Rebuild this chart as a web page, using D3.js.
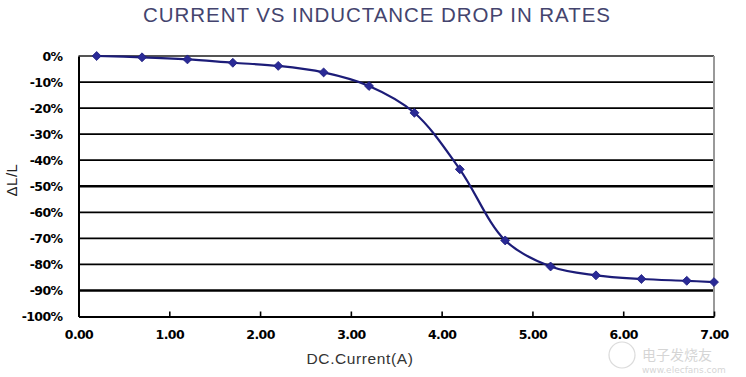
<!DOCTYPE html>
<html>
<head>
<meta charset="utf-8">
<script src="https://cdn.jsdelivr.net/npm/d3@7/dist/d3.min.js"></script>
<style>
  html, body { margin: 0; padding: 0; background: #ffffff; }
  svg { display: block; }
</style>
</head>
<body>
<svg id="chart" width="746" height="377"></svg>
<script>
// ---- data ----
const currents = [0.2, 0.7, 1.2, 1.7, 2.2, 2.7, 3.2, 3.7, 4.2, 4.7, 5.2, 5.7, 6.2, 6.7, 7.0];
const drops    = [0, -0.5, -1.3, -2.6, -3.8, -6.3, -11.5, -21.8, -43.5, -70.8, -80.8, -84.2, -85.6, -86.3, -86.8];
const yTicks   = [0, -10, -20, -30, -40, -50, -60, -70, -80, -90, -100];
const xTicks   = [0, 1, 2, 3, 4, 5, 6, 7];
const titleText = "CURRENT VS INDUCTANCE DROP IN RATES";
const xTitle = "DC.Current(A)";
const yTitle = "\u0394L/L";

(function () {
const svg = d3.select("#chart");
const pLeft = 78.5, pRight = 714, pTop = 56, pBottom = 316.5;

const x = d3.scaleLinear().domain([0, 7]).range([pLeft, pRight]);
const y = d3.scaleLinear().domain([0, -100]).range([pTop, pBottom]);

// title
svg.append("text")
  .attr("x", 143).attr("y", 22)
  .attr("textLength", 467).attr("lengthAdjust", "spacing")
  .attr("font-family", "Liberation Sans, Arial, sans-serif")
  .attr("font-size", 20.5)
  .attr("fill", "#44446e")
  .text(titleText);

// gridlines
svg.append("g").selectAll("line")
  .data(yTicks.filter(d => d !== 0 && d !== -100))
  .join("line")
  .attr("x1", pLeft).attr("x2", pRight)
  .attr("y1", d => y(d)).attr("y2", d => y(d))
  .attr("stroke", "#000").attr("stroke-width", d => (d === -50 || d === -90) ? 2.4 : 1.7);

// plot border top/right (gray)
svg.append("line").attr("x1", pLeft).attr("x2", pRight).attr("y1", pTop).attr("y2", pTop)
  .attr("stroke", "#555").attr("stroke-width", 1.8);
svg.append("line").attr("x1", pRight).attr("x2", pRight).attr("y1", pTop).attr("y2", pBottom)
  .attr("stroke", "#999").attr("stroke-width", 2);

// y axis
const yAxis = d3.axisLeft(y).tickValues(yTicks).tickSize(0).tickPadding(16)
  .tickFormat(d => d + "%");
const gy = svg.append("g").attr("transform", `translate(${pLeft},0)`).call(yAxis);
gy.select(".domain").attr("stroke", "#000").attr("stroke-width", 2);
gy.selectAll("text")
  .attr("font-family", "DejaVu Sans, sans-serif")
  .attr("font-weight", "bold")
  .attr("font-size", 12.5)
  .attr("letter-spacing", -0.6)
  .attr("fill", "#000");

// x axis
const xAxis = d3.axisBottom(x).tickValues(xTicks).tickSizeInner(-5).tickSizeOuter(0).tickPadding(14)
  .tickFormat(d3.format(".2f"));
const gx = svg.append("g").attr("transform", `translate(0,${pBottom})`).call(xAxis);
gx.select(".domain").attr("stroke", "#000").attr("stroke-width", 2.2);
gx.selectAll(".tick line").attr("stroke", "#000").attr("stroke-width", 1.6);
gx.selectAll("text")
  .attr("font-family", "DejaVu Sans, sans-serif")
  .attr("font-weight", "bold")
  .attr("font-size", 12.5)
  .attr("letter-spacing", -0.6)
  .attr("fill", "#000");

// axis titles
svg.append("text")
  .attr("x", 360).attr("y", 364)
  .attr("text-anchor", "middle")
  .attr("font-family", "Liberation Sans, Arial, sans-serif")
  .attr("font-size", 15.5)
  .attr("letter-spacing", 0.6)
  .attr("fill", "#333")
  .text(xTitle);

svg.append("text")
  .attr("transform", "translate(17,180) rotate(-90)")
  .attr("text-anchor", "middle")
  .attr("font-family", "Liberation Sans, Arial, sans-serif")
  .attr("font-size", 15)
  .attr("letter-spacing", 0.5)
  .attr("fill", "#222")
  .text(yTitle);

// line
const pts = currents.map((c, i) => [c, drops[i]]);
const line = d3.line().x(d => x(d[0])).y(d => y(d[1])).curve(d3.curveCatmullRom.alpha(0.5));
svg.append("path")
  .datum(pts)
  .attr("d", line)
  .attr("fill", "none")
  .attr("stroke", "#1c1c78")
  .attr("stroke-width", 2.2);

// markers (square diamonds)
svg.append("g").selectAll("path")
  .data(pts)
  .join("path")
  .attr("d", d3.symbol(d3.symbolSquare, 40))
  .attr("transform", d => `translate(${x(d[0])},${y(d[1])}) rotate(45)`)
  .attr("fill", "#2a2a96")
  .attr("stroke", "#1e1e80")
  .attr("stroke-width", 0.8);

// watermark
const wm = svg.append("g").attr("opacity", 0.35);
wm.append("circle").attr("cx", 622).attr("cy", 355).attr("r", 13)
  .attr("fill", "none").attr("stroke", "#999").attr("stroke-width", 1.2);
wm.append("text").attr("x", 642).attr("y", 360)
  .attr("font-family", "Noto Sans CJK SC, sans-serif").attr("font-size", 14)
  .attr("fill", "#888").text("电子发烧友");
wm.append("text").attr("x", 642).attr("y", 373)
  .attr("font-family", "DejaVu Sans, sans-serif").attr("font-size", 9)
  .attr("fill", "#888").text("www.elecfans.com");
})();
</script>
</body>
</html>
